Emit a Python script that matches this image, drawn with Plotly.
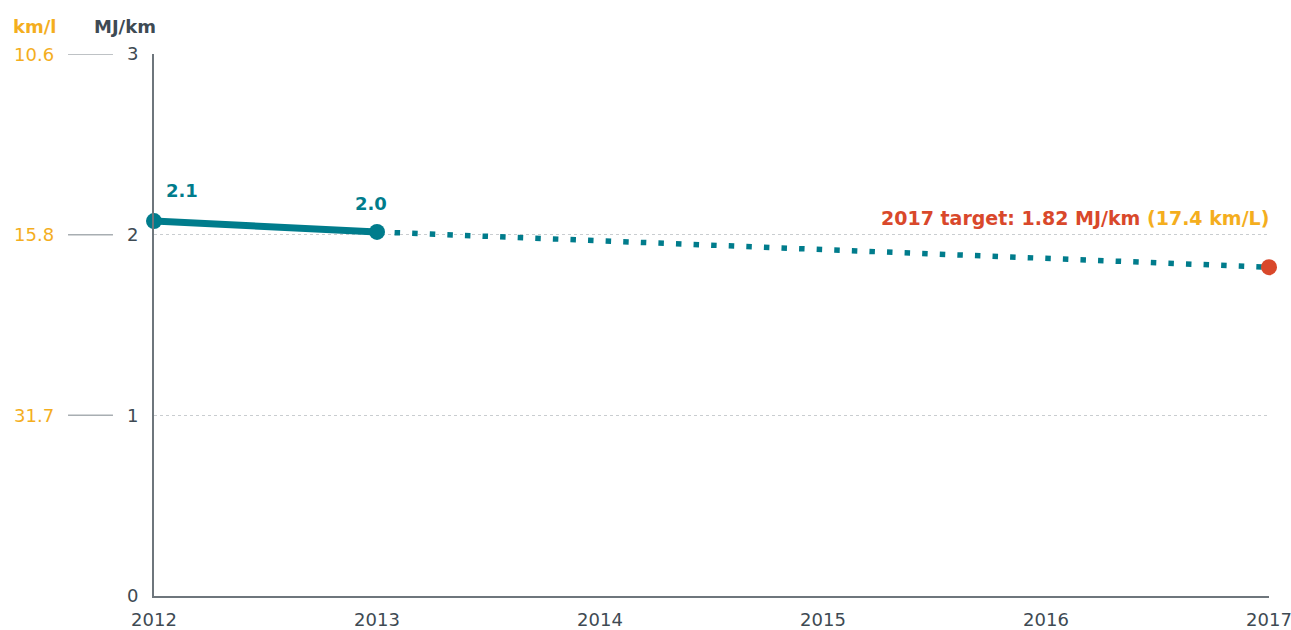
import plotly.graph_objects as go

# ---- data ----
years = [2012, 2013]
mj_per_km = [2.075, 2.015]
point_labels = ["2.1", "2.0"]
target_year = 2017
target_mj = 1.82
target_kml = 17.4
x_ticks = [2012, 2013, 2014, 2015, 2016, 2017]
mj_ticks = [0, 1, 2, 3]
kml_ticks = ["", "31.7", "15.8", "10.6"]

TEAL = "#007C8C"
RED = "#D9482B"
ORANGE = "#F4AE1E"
DARK = "#3E4A53"
AXIS = "#6E767C"
FONT = "DejaVu Sans"

fig = go.Figure()

# projection (dotted)
fig.add_trace(go.Scatter(
    x=[years[-1], target_year], y=[mj_per_km[-1], target_mj],
    mode="lines", line=dict(color=TEAL, width=5.5, dash="5.5px,12.1px"),
    hoverinfo="skip", cliponaxis=False, showlegend=False))

# actual (solid)
fig.add_trace(go.Scatter(
    x=years, y=mj_per_km, mode="lines+markers",
    line=dict(color=TEAL, width=7),
    marker=dict(color=TEAL, size=16),
    cliponaxis=False, showlegend=False))

# target point
fig.add_trace(go.Scatter(
    x=[target_year], y=[target_mj], mode="markers",
    marker=dict(color=RED, size=16),
    cliponaxis=False, showlegend=False))

annotations = []
for xv, yv, lab in zip(years, mj_per_km, point_labels):
    annotations.append(dict(x=xv, y=yv, text=lab, showarrow=False,
                            xanchor="center", yanchor="bottom",
                            xshift=28 if xv == years[0] else -6, yshift=18 if xv == years[0] else 16,
                            font=dict(family=FONT, size=18, color=TEAL, weight=600)))

annotations.append(dict(
    x=target_year, y=target_mj, xanchor="right", yanchor="bottom", showarrow=False,
    yshift=36, xshift=2,
    text=f"<span style='color:{RED}'>{target_year} target: {target_mj:.2f} MJ/km</span> "
         f"<span style='color:{ORANGE}'>({target_kml} km/L)</span>",
    font=dict(family=FONT, size=19, weight=600)))

# secondary km/l labels + connector lines
shapes = []
for mv, kl in zip(mj_ticks, kml_ticks):
    if kl:
        annotations.append(dict(xref="paper", x=-0.088, y=mv, text=kl, showarrow=False,
                                xanchor="right", yanchor="middle",
                                font=dict(family=FONT, size=18, color=ORANGE)))
        shapes.append(dict(type="line", xref="paper", yref="y", x0=-0.0771, x1=-0.0368,
                           y0=mv, y1=mv, line=dict(color="#A8AEB2", width=1.5)))

# unit headers
annotations.append(dict(xref="paper", yref="paper", x=-0.107, y=1.028, text="km/l",
                        showarrow=False, xanchor="center", yanchor="bottom",
                        font=dict(family=FONT, size=18, color=ORANGE, weight=600)))
annotations.append(dict(xref="paper", yref="paper", x=-0.026, y=1.028, text="MJ/km",
                        showarrow=False, xanchor="center", yanchor="bottom",
                        font=dict(family=FONT, size=18, color=DARK, weight=600)))

fig.update_layout(
    width=1291, height=630,
    margin=dict(l=154, r=22, t=54, b=34, autoexpand=False),
    paper_bgcolor="white", plot_bgcolor="white",
    font=dict(family=FONT, size=18, color=DARK),
    annotations=annotations, shapes=shapes,
    xaxis=dict(range=[2012, 2017], tickvals=x_ticks, ticktext=[str(v) for v in x_ticks],
               showgrid=False, zeroline=False, showline=True, linecolor=AXIS, linewidth=2,
               ticks="outside", ticklen=6, tickcolor="rgba(0,0,0,0)", automargin=False,
               ticklabeloverflow="allow",
               tickfont=dict(family=FONT, size=18, color=DARK)),
    yaxis=dict(range=[0, 3], tickvals=mj_ticks, ticktext=[str(v) for v in mj_ticks],
               showgrid=True, gridcolor="#C9CDD0", griddash="dot", gridwidth=1,
               zeroline=False, showline=True, linecolor=AXIS, linewidth=2, automargin=False,
               ticks="outside", ticklen=10, tickcolor="rgba(0,0,0,0)",
               tickfont=dict(family=FONT, size=18, color=DARK)),
)

fig.write_html("out.html", config={"displayModeBar": False},
               post_script="document.body.style.margin='0';document.body.style.overflow='hidden';")
